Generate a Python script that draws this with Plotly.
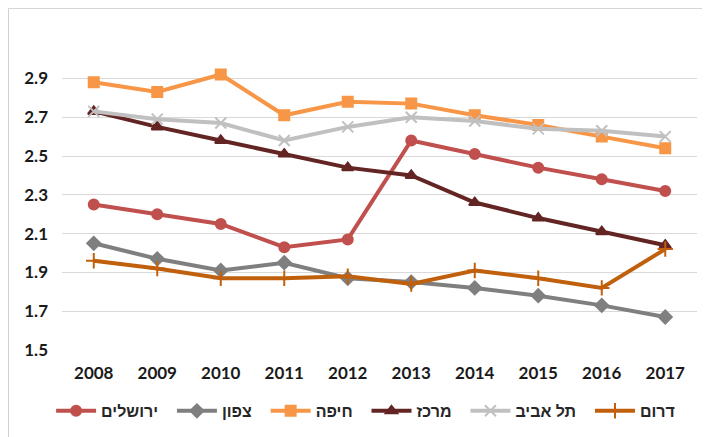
import plotly.graph_objects as go

years = ["2008", "2009", "2010", "2011", "2012", "2013", "2014", "2015", "2016", "2017"]

jerusalem = [2.25, 2.20, 2.15, 2.03, 2.07, 2.58, 2.51, 2.44, 2.38, 2.32]
north = [2.05, 1.97, 1.91, 1.95, 1.87, 1.85, 1.82, 1.78, 1.73, 1.67]
haifa = [2.88, 2.83, 2.92, 2.71, 2.78, 2.77, 2.71, 2.66, 2.60, 2.54]
center = [2.73, 2.65, 2.58, 2.51, 2.44, 2.40, 2.26, 2.18, 2.11, 2.04]
telaviv = [2.73, 2.69, 2.67, 2.58, 2.65, 2.70, 2.68, 2.64, 2.63, 2.60]
south = [1.96, 1.92, 1.87, 1.87, 1.88, 1.84, 1.91, 1.87, 1.82, 2.02]

y_ticks = [1.5, 1.7, 1.9, 2.1, 2.3, 2.5, 2.7, 2.9]
y_tick_labels = ["1.5", "1.7", "1.9", "2.1", "2.3", "2.5", "2.7", "2.9"]

series = [
    ("ירושלים", jerusalem, "#C0504D", "circle", 10),
    ("צפון", north, "#7F7F7F", "diamond", 10),
    ("חיפה", haifa, "#F79646", "square", 10),
    ("מרכז", center, "#632523", "triangle-up", 10),
    ("תל אביב", telaviv, "#C0C0C0", "x-thin", 11),
    ("דרום", south, "#C0600C", "cross-thin", 11),
]

PAD = "\u00a0\u00a0"

fig = go.Figure()
for name, vals, color, sym, size in series:
    fig.add_trace(go.Scatter(
        x=years, y=vals, name=name + PAD, mode="lines+markers",
        line=dict(color=color, width=4),
        marker=dict(symbol=sym, size=size, color=color,
                    line=dict(color=color, width=2)),
    ))

fig.update_layout(
    width=710, height=437,
    margin=dict(l=54, r=21, t=51, b=95, autoexpand=False),
    paper_bgcolor="white", plot_bgcolor="white",
    font=dict(family="Lato", size=17, color="#1A1A1A"),
    showlegend=True,
    legend=dict(orientation="h", xref="container", yref="container",
                x=0.51, xanchor="center", y=0.078, yanchor="middle",
                font=dict(size=16, family="Liberation Sans", color="#262626", weight="bold"),
                itemwidth=40, tracegroupgap=0),
    xaxis=dict(type="category", range=[-0.5, 9.5], showgrid=False, zeroline=False,
               showline=False, ticks="", ticklabelstandoff=11,
               tickfont=dict(size=17, family="Lato", weight="bold", color="#1A1A1A")),
    yaxis=dict(range=[1.5, 3.0], tickvals=y_ticks, ticktext=y_tick_labels,
               showgrid=True, gridcolor="#D9D9D9", gridwidth=1.3, zeroline=False,
               showline=False, ticks="", ticklabelstandoff=13,
               tickfont=dict(size=17, family="Lato", weight="bold", color="#1A1A1A")),
    shapes=[dict(type="rect", xref="paper", yref="paper",
                 x0=-0.0843, x1=1.2, y0=-0.5, y1=1.174,
                 line=dict(color="#D0D0D0", width=1), layer="below")],
)

fig.write_html("out.html")
